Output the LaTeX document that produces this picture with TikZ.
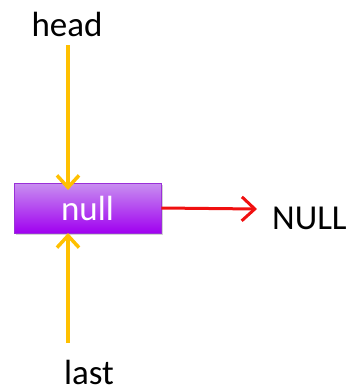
\documentclass[tikz,border=0pt]{standalone}
\usepackage{fontspec}
\setmainfont{Carlito}
\usetikzlibrary{arrows.meta,shadows}
\definecolor{gold}{HTML}{FFC000}
\definecolor{redarr}{HTML}{F01010}
\definecolor{boxtop}{HTML}{C890F0}
\definecolor{boxbot}{HTML}{A000F0}
\definecolor{boxedge}{HTML}{9A30D8}
\tikzset{
  lbl/.style={font=\fontsize{35}{35}\selectfont, text=black, inner sep=0pt},
  nodebox/.style={draw=boxedge, line width=0.8pt, top color=boxtop, bottom color=boxbot,
    minimum width=147pt, minimum height=50pt, inner sep=0pt,
    font=\fontsize{35}{35}\selectfont, text=white, drop shadow={shadow xshift=1.5pt, shadow yshift=-2pt, opacity=0.35}},
  ptr/.style={draw=gold, line width=3.5pt, -{Straight Barb[length=12pt,width=22pt,line width=3.5pt]}},
  nxt/.style={draw=redarr, line width=3pt, -{Straight Barb[length=13pt,width=24pt,line width=3pt]}}
}
\begin{document}
\begin{tikzpicture}[x=1pt,y=-1pt]
\useasboundingbox (0,0) rectangle (351,392);
\node[nodebox] (n) at (87.5,208) {null};
\node[lbl, anchor=base] (head) at (67,36) {head};
\node[lbl, anchor=base] (last) at (89,384) {last};
\node[lbl, anchor=base west] (NULL) at (272,229) {NULL};
\coordinate (ht) at (68,45);
\coordinate (lt) at (68,343);
\draw[ptr] (ht) -- (68,190);
\draw[ptr] (lt) -- (68,233);
\draw[nxt] (n.east) -- (257,209);
\end{tikzpicture}
\end{document}
